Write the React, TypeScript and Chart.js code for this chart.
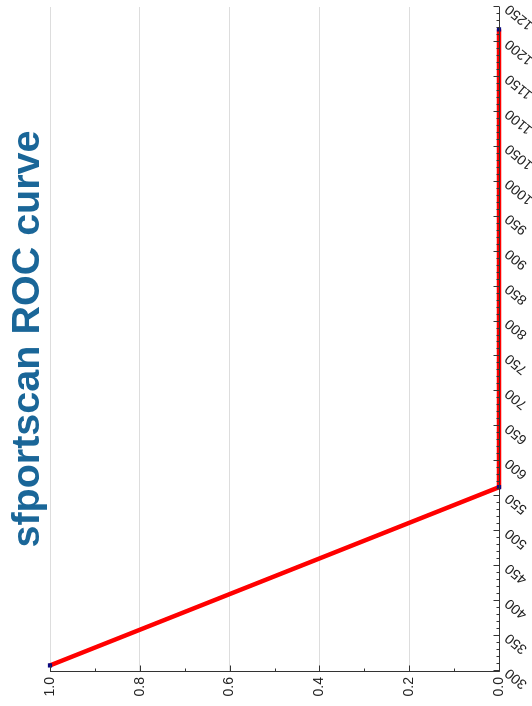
import React, { useEffect, useRef } from "react";
import { Chart, registerables } from "chart.js";

Chart.register(...registerables);

const TITLE = "sfportscan ROC curve";
const rocX = [308, 563, 1218];
const rocY = [1.0, 0.0, 0.0];

const X_MIN = 300;
const X_MAX = 1250;
const X_MAJOR = 50;
const X_MINOR = 10;
const Y_MIN = 0;
const Y_MAX = 1;
const Y_MAJOR = 0.2;
const Y_MINOR = 0.1;

const FONT = "'Liberation Sans', Arial, Helvetica, sans-serif";

const axisPlugin = {
  id: "innerAxes",
  afterDatasetsDraw(chart: any) {
    const { ctx, chartArea: a, scales } = chart;
    const x = scales.x;
    const y = scales.y;
    ctx.save();
    ctx.strokeStyle = "#333";
    ctx.lineWidth = 1;
    ctx.beginPath();
    const by = Math.round(a.bottom) + 0.5;
    const lx = Math.round(a.left) - 0.5;
    ctx.moveTo(lx, a.top);
    ctx.lineTo(lx, by);
    ctx.lineTo(a.right, by);
    const nx = Math.round((X_MAX - X_MIN) / X_MINOR);
    for (let i = 0; i <= nx; i++) {
      const v = X_MIN + i * X_MINOR;
      const px = Math.round(x.getPixelForValue(v)) + 0.5;
      const major = Math.abs(v / X_MAJOR - Math.round(v / X_MAJOR)) < 1e-6;
      const len = major ? 6 : 3;
      ctx.moveTo(px, by);
      ctx.lineTo(px, by - len);
    }
    const ny = Math.round((Y_MAX - Y_MIN) / Y_MINOR);
    for (let i = 0; i <= ny; i++) {
      const v = Y_MIN + i * Y_MINOR;
      const py = Math.round(y.getPixelForValue(v)) + 0.5;
      const major = Math.abs(v / Y_MAJOR - Math.round(v / Y_MAJOR)) < 1e-6;
      const len = major ? 6 : 3;
      ctx.moveTo(lx, py);
      ctx.lineTo(lx + len, py);
    }
    ctx.stroke();
    ctx.restore();
  },
};

export default function App() {
  const ref = useRef<HTMLCanvasElement>(null);
  useEffect(() => {
    const data = rocX.map((v, i) => ({ x: v, y: rocY[i] }));
    const chart = new Chart(ref.current as HTMLCanvasElement, {
      type: "line",
      data: {
        datasets: [
          {
            label: "ROC",
            data,
            borderColor: "#ff0000",
            borderWidth: 4.5,
            backgroundColor: "#00007f",
            pointBackgroundColor: "#0a0a80",
            pointBorderColor: "#0a0a80",
            pointBorderWidth: 0,
            pointStyle: "rect",
            pointRadius: 3,
            tension: 0,
            clip: false as any,
          },
        ],
      },
      options: {
        animation: false,
        responsive: false,
        maintainAspectRatio: false,
        layout: { padding: { left: 0, right: 7, top: 0, bottom: 0 } },
        plugins: {
          legend: { display: false },
          tooltip: { enabled: false },
          title: {
            display: true,
            text: TITLE,
            fullSize: false,
            color: "#1a6698",
            font: { family: FONT, size: 39.5, weight: "bold", lineHeight: 1 },
            padding: { top: 8, bottom: 2.5 },
          },
        },
        scales: {
          x: {
            type: "linear",
            min: X_MIN,
            max: X_MAX,
            border: { display: false },
            grid: { display: false, drawTicks: false },
            ticks: {
              stepSize: X_MAJOR,
              autoSkip: false,
              minRotation: 50,
              maxRotation: 50,
              padding: 3,
              color: "#222",
              font: { family: FONT, size: 14 },
              callback: (v: any) => String(v),
            },
            afterFit: (s: any) => {
              s.height = 33;
              s.paddingLeft = 0;
              s.paddingRight = 0;
            },
          },
          y: {
            type: "linear",
            min: Y_MIN,
            max: Y_MAX,
            border: { display: false },
            grid: { color: "#dddddd", lineWidth: 1, drawTicks: false },
            ticks: {
              stepSize: Y_MAJOR,
              padding: 6,
              color: "#222",
              font: { family: FONT, size: 14 },
              callback: (v: any) => Number(v).toFixed(1),
            },
            afterFit: (s: any) => {
              s.width = 35;
              s.paddingTop = 0;
              s.paddingBottom = 0;
            },
          },
        },
      },
      plugins: [axisPlugin],
    });
    return () => chart.destroy();
  }, []);
  return (
    <div
      style={{
        position: "fixed",
        left: 0,
        top: 0,
        width: 532,
        height: 706,
        overflow: "hidden",
        background: "#fff",
      }}
    >
      <div
        style={{
          position: "absolute",
          left: 0,
          top: 0,
          width: 706,
          height: 532,
          transformOrigin: "0 0",
          transform: "translate(0px, 706px) rotate(-90deg)",
        }}
      >
        <canvas ref={ref} width={706} height={532} style={{ display: "block", width: 706, height: 532 }} />
      </div>
    </div>
  );
}
